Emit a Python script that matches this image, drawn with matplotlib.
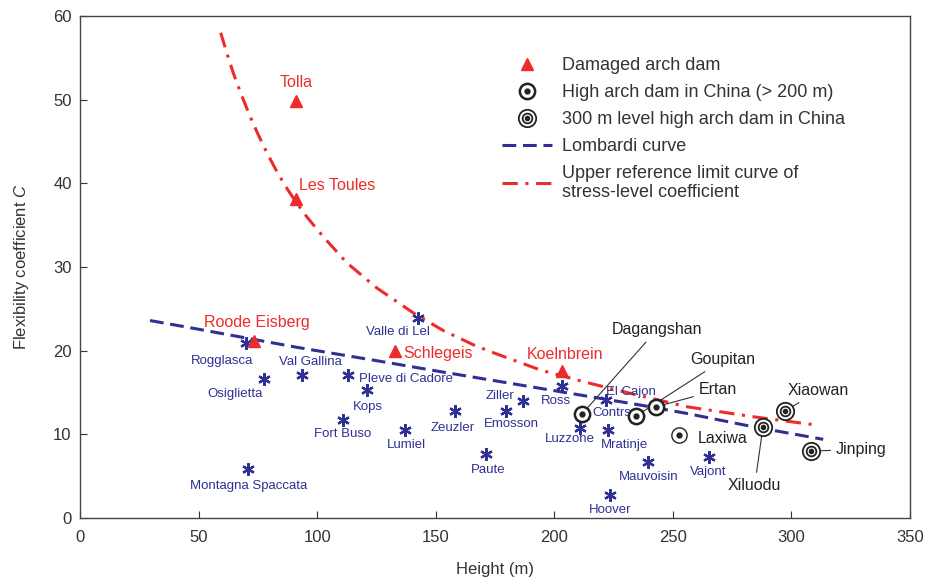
import matplotlib
matplotlib.use("Agg")
import matplotlib.pyplot as plt
from matplotlib.legend_handler import HandlerTuple
from matplotlib.lines import Line2D

plt.rcParams['font.family'] = ['Liberation Sans', 'DejaVu Sans']
plt.rcParams['mathtext.fontset'] = 'custom'
plt.rcParams['mathtext.it'] = 'Liberation Sans:italic'
plt.rcParams['mathtext.rm'] = 'Liberation Sans'

# 损坏拱坝
dmg_names = ['Tolla', 'Les Toules', 'Roode Eisberg', 'Schlegeis', 'Koelnbrein']
dmg_h = [91, 91, 73.4, 132.9, 203.3]
dmg_c = [49.8, 38.1, 21.2, 20.0, 17.6]
dmg_lab = [(91, 52.0), (108.5, 39.7), (74.6, 23.4), (151, 19.7), (204.5, 19.6)]

# 其他拱坝 (星号)
dam_names = ['Rogglasca', 'Valle di Lel', 'Osiglietta', 'Val Gallina', 'Pleve di Cadore',
             'Kops', 'Fort Buso', 'Lumiel', 'Zeuzler', 'Montagna Spaccata', 'Paute',
             'Ziller', 'Emosson', 'Ross', 'El Cajon', 'Luzzone', 'Mratinje',
             'Mauvoisin', 'Vajont', 'Hoover']
dam_h = [70, 142.6, 77.6, 93.6, 113, 121, 111, 137, 158, 70.9, 171,
         187, 179.7, 203.3, 222, 210.9, 222.7, 239.6, 265.3, 223.5]
dam_c = [20.9, 23.9, 16.6, 17.1, 17.1, 15.3, 11.7, 10.5, 12.8, 5.9, 7.6,
         14.0, 12.8, 15.8, 14.1, 10.8, 10.5, 6.7, 7.3, 2.7]
dam_lab = [(59.9, 18.8), (134.1, 22.2), (65.4, 14.8), (97, 18.6), (117.5, 16.6),
           (121.5, 13.3), (110.9, 10.0), (137.5, 8.7), (157.2, 10.8), (70.9, 3.8),
           (172, 5.7), (177.1, 14.6), (182.1, 11.2), (200.7, 14.0), (232.4, 15.1),
           (206.6, 9.4), (229.4, 8.7), (240, 4.9), (264.8, 5.5), (223.5, 1.0)]
dam_ha = ['center'] * 4 + ['left'] + ['center'] * 15
extra_name, extra_lab = 'Contrs', (224.3, 12.5)

# 中国高拱坝 (>200 m)
cn_names = ['Dagangshan', 'Goupitan', 'Ertan', 'Laxiwa']
cn_h = [211.6, 234.5, 243, 252.6]
cn_c = [12.4, 12.2, 13.3, 9.9]
cn_lab = [(243.3, 22.5), (271.2, 18.9), (269, 15.3), (260.5, 9.5)]

# 300 m 级高拱坝
cn3_names = ['Xiluodu', 'Xiaowan', 'Jinping']
cn3_h = [288, 297.4, 308.3]
cn3_c = [10.9, 12.8, 8.0]
cn3_lab = [(284.5, 3.9), (311.2, 15.2), (329.5, 8.2)]

# Lombardi 曲线
lomb_h = [29.5, 49.2, 70.3, 91.4, 125.1, 151.8, 172.9, 194.0, 215.1, 236.2, 255.8, 283.9, 313.4]
lomb_c = [23.6, 22.6, 21.5, 20.4, 18.8, 17.5, 16.5, 15.5, 14.5, 13.5, 12.5, 10.9, 9.4]

# 应力水平系数上限曲线
up_h = [59.3, 62.0, 64.6, 68.0, 71.7, 75.0, 78.7, 83.0, 87.2, 91.0, 95.6, 102.6, 112.5,
        125.1, 140.6, 153.2, 165.9, 172.9, 194.0, 212.2, 230.5, 255.8, 283.9, 310.7]
up_c = [58.0, 55.5, 53.2, 50.6, 48.0, 45.9, 43.7, 41.4, 39.4, 37.8, 36.0, 33.6, 30.5,
        27.5, 24.5, 22.4, 20.7, 19.9, 17.7, 16.3, 15.0, 13.3, 12.1, 11.1]

red = '#ee2b2b'
navy = '#2e3192'
txt = '#333333'
blk = '#222222'

fig = plt.figure(figsize=(9.35, 5.83), dpi=100)
ax = fig.add_axes([0.0856, 0.1115, 0.8877, 0.8611])

ax.plot(lomb_h, lomb_c, color=navy, lw=2.2, dashes=(4.5, 2.2), zorder=2)
ax.plot(up_h, up_c, color=red, lw=2.2, dashes=(5, 2.5, 1, 2.5), zorder=2)

ax.plot(dam_h, dam_c, ls='none', marker=(6, 2, 0), ms=9, mew=1.6, color=navy, zorder=3)
for n, (tx, ty), ha in zip(dam_names, dam_lab, dam_ha):
    ax.text(tx, ty, n, color=navy, fontsize=9.5, ha=ha, va='center')
ax.text(extra_lab[0], extra_lab[1], extra_name, color=navy, fontsize=9.5, ha='center', va='center')

ax.plot(dmg_h, dmg_c, ls='none', marker='^', ms=8, color=red, zorder=4)
for n, (tx, ty) in zip(dmg_names, dmg_lab):
    ax.text(tx, ty, n, color=red, fontsize=11.5, ha='center', va='center')

# 圆圈标记
for i, (h, c) in enumerate(zip(cn_h, cn_c)):
    lw = 1.0 if cn_names[i] == 'Laxiwa' else 1.8
    ax.plot(h, c, ls='none', marker='o', ms=11, mfc='white', mec=blk, mew=lw, zorder=5)
    ax.plot(h, c, ls='none', marker='o', ms=3.5, color=blk, zorder=6)
for h, c in zip(cn3_h, cn3_c):
    ax.plot(h, c, ls='none', marker='o', ms=12.5, mfc='white', mec=blk, mew=1.3, zorder=5)
    ax.plot(h, c, ls='none', marker='o', ms=7, mfc='none', mec=blk, mew=1.3, zorder=6)
    ax.plot(h, c, ls='none', marker='o', ms=3, color=blk, zorder=6)

for n, h, c, (tx, ty) in zip(cn_names + cn3_names, cn_h + cn3_h, cn_c + cn3_c, cn_lab + cn3_lab):
    if n == 'Laxiwa':
        ax.text(tx, ty, n, color=blk, fontsize=11.5, ha='left', va='center')
        continue
    ax.annotate(n, xy=(h, c), xytext=(tx, ty), color=blk, fontsize=11.5,
                ha='center', va='center',
                arrowprops=dict(arrowstyle='-', color='#333333', lw=0.8, shrinkA=2, shrinkB=6))

ax.set_xlim(0, 350)
ax.set_ylim(0, 60)
ax.set_xticks(range(0, 351, 50))
ax.set_yticks(range(0, 61, 10))
ax.tick_params(direction='in', length=5, labelsize=12, colors=txt)
ax.tick_params(axis='x', pad=9)
ax.tick_params(axis='y', pad=6)
for s in ax.spines.values():
    s.set_color('#444444')
    s.set_linewidth(1.0)
ax.set_xlabel('Height (m)', fontsize=12, color=txt, labelpad=12)
ax.set_ylabel('Flexibility coefficient $\\it{C}$', fontsize=12, color=txt, labelpad=16)

# 图例
h1 = Line2D([], [], ls='none', marker='^', ms=8, color=red)
h2 = (Line2D([], [], ls='none', marker='o', ms=11, mfc='white', mec=blk, mew=1.8),
      Line2D([], [], ls='none', marker='o', ms=3.5, color=blk))
h3 = (Line2D([], [], ls='none', marker='o', ms=12.5, mfc='white', mec=blk, mew=1.3),
      Line2D([], [], ls='none', marker='o', ms=7, mfc='none', mec=blk, mew=1.3),
      Line2D([], [], ls='none', marker='o', ms=3, color=blk))
h4 = Line2D([], [], color=navy, lw=2.2, dashes=(4.5, 2.2))
h5 = Line2D([], [], color=red, lw=2.2, dashes=(5, 2.5, 1, 2.5))
ax.legend([h1, h2, h3, h4, h5],
          ['Damaged arch dam', 'High arch dam in China (> 200 m)',
           '300 m level high arch dam in China', 'Lombardi curve',
           'Upper reference limit curve of\nstress-level coefficient'],
          handler_map={tuple: HandlerTuple(ndivide=1, pad=0)},
          loc='upper left', bbox_to_anchor=(0.508, 0.918), frameon=False,
          fontsize=13, handlelength=2.8, handletextpad=0.55, labelspacing=0.55,
          borderpad=0, borderaxespad=0, labelcolor=txt)

fig.savefig('out.png', dpi=100)
